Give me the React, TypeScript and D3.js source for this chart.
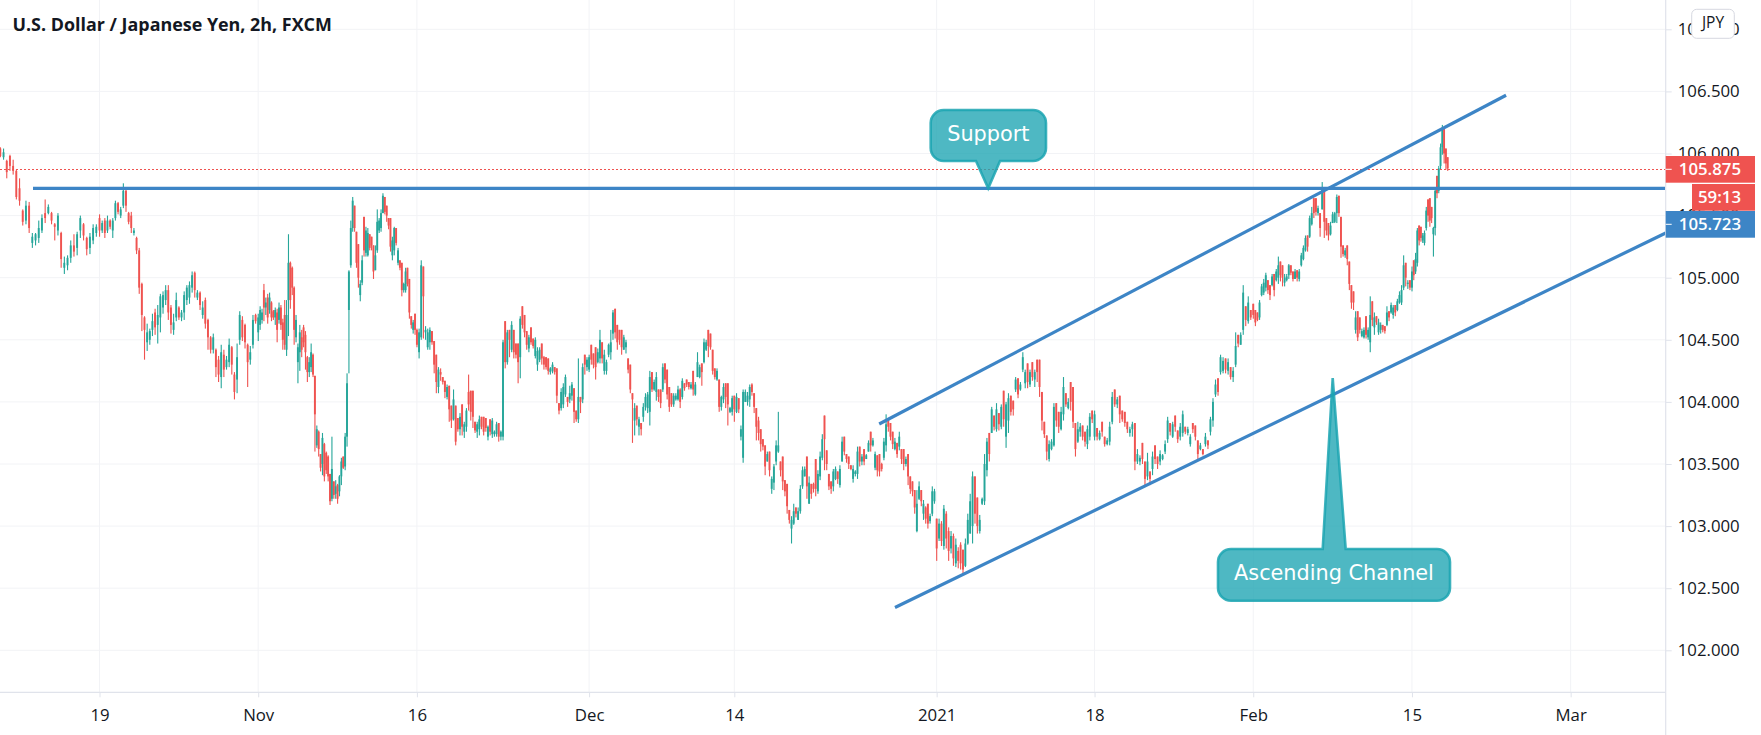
import React, { useEffect, useRef } from "react";
import * as d3 from "d3";

// bars are [open, high, low, close], in hundredths of a yen above 100
type Bar = number[];

const barsToOct19: Bar[] = [
  [604,605,597,598],[597,604,595,601],[594,595,580,585],[598,599,586,590],[590,595,583,586],[586,587,563,565],[572,580,558,562],[554,555,542,545],
  [546,562,543,558],[558,561,536,540],[528,536,524,533],[530,536,526,535],[532,546,528,540],[538,551,536,548],[552,563,544,548],[552,559,551,557],
  [552,553,543,546],[543,544,530,541],[538,552,534,550],[536,537,508,515],[508,517,503,512],[510,518,506,516],[516,530,512,526],[526,535,517,521],
  [524,537,518,535],[538,550,532,548],[543,544,530,534],[532,533,518,523],[524,536,519,533],[530,543,527,540],[536,543,533,541],
];
const barsToNov2: Bar[] = [
  [548,551,533,538],[538,546,536,544],[546,548,532,536],[538,550,536,546],[546,547,539,541],[538,548,532,546],[548,562,546,560],[560,561,551,553],
  [550,557,548,555],[558,576,556,570],[570,571,553,558],[552,553,543,545],[550,553,536,540],[536,540,534,538],[532,533,519,522],[522,524,487,492],
  [495,496,457,470],[468,469,434,458],[448,463,441,456],[450,459,446,457],[458,471,453,465],[472,475,454,460],[462,478,447,470],[468,487,456,485],
  [476,489,471,486],[482,494,478,490],[490,494,466,472],[476,478,455,462],[458,471,454,464],[468,488,465,482],[476,477,466,468],[468,474,465,472],
  [472,489,466,486],[482,494,478,492],[484,497,479,494],[492,505,488,502],[504,505,484,490],[484,490,482,488],[488,489,474,478],[470,481,467,476],
  [482,484,459,463],[466,467,442,452],[452,453,439,442],[442,455,439,452],[442,443,420,428],[434,437,416,422],[420,446,411,440],[438,442,420,426],
  [428,437,426,434],[432,451,428,446],[444,445,422,430],[422,424,402,408],[418,447,407,436],[450,473,446,470],[466,469,449,452],[462,463,443,448],
  [446,447,412,432],[434,445,430,440],[446,470,443,466],[470,471,463,465],
];
const barsToNov16: Bar[] = [
  [456,471,449,468],[462,477,458,474],[466,475,463,472],[490,495,465,476],[476,484,470,480],[484,487,463,468],[474,488,471,484],[480,481,465,468],
  [473,474,466,468],[468,476,462,474],[472,475,448,458],[466,480,463,476],[476,478,458,462],[464,467,442,450],[470,482,442,446],[442,482,437,470],
  [482,535,453,512],[512,513,475,482],[508,509,486,492],[492,493,446,458],[452,470,448,466],[432,447,415,444],[440,462,425,456],[452,458,436,442],
  [460,462,444,448],[454,457,426,440],[436,437,416,424],[424,436,420,432],[428,447,424,440],[438,439,420,422],
  [421,421,360,390],[365,381,363,378],[376,377,356,362],[358,358,344,347],[350,375,341,371],[366,367,336,340],[359,360,342,345],[356,357,336,340],
  [342,342,317,320],[322,372,320,346],[336,336,322,325],[326,337,322,332],[333,334,318,322],[328,341,324,340],[340,355,333,352],[356,356,346,347],
  [348,375,345,372],[372,423,364,415],[474,506,423,505],[510,546,508,540],[540,565,537,562],[558,558,537,540],[537,537,508,512],[527,527,492,500],
  [486,498,481,495],[496,518,494,514],[549,549,517,522],[520,541,517,538],[518,540,517,536],[535,535,522,524],[533,533,522,526],[526,526,499,505],
  [506,526,506,518],[522,555,520,545],[538,548,536,546],[540,555,537,552],[552,568,552,566],[565,565,551,553],[558,558,545,550],[548,548,539,542],
  [548,548,521,525],[518,533,514,530],[522,541,518,540],[540,540,526,528],[512,524,510,522],[514,514,506,508],[512,512,485,490],[490,496,488,495],
  [490,508,488,505],[508,508,493,495],[499,499,467,472],[469,469,459,462],[458,466,455,464],[471,471,454,458],
];
const barsToDec1: Bar[] = [
  [458,459,444,446],[440,459,435,456],[452,514,450,510],[509,509,451,485],[456,461,450,458],[444,459,442,456],[448,460,442,458],[457,457,446,448],
  [449,449,423,430],[438,438,407,416],[412,428,407,426],[424,427,417,422],[420,420,414,416],[417,417,403,408],[404,414,402,412],[413,413,384,394],
  [397,397,379,385],[386,410,385,402],[397,397,365,368],[387,387,376,378],[378,391,373,388],[398,398,373,380],[376,384,371,382],[380,395,376,393],
  [408,422,393,398],[409,409,385,392],[409,409,379,388],[384,384,375,377],[376,384,371,382],[378,389,373,386],[388,388,378,380],[388,388,373,376],
  [387,387,376,379],[372,381,369,380],[386,386,373,376],[374,387,371,385],[374,377,372,376],[374,384,372,382],[383,383,368,372],[372,377,369,376],
  [372,450,369,448],[465,465,427,432],[432,458,430,456],[458,458,436,450],[442,465,440,462],[458,458,435,440],[447,447,435,438],[447,447,415,432],
  [436,469,419,467],[477,477,459,462],[470,470,452,456],[457,457,442,446],[443,454,440,452],[460,460,446,448],[451,451,443,445],[437,452,435,450],
  [430,444,425,441],[434,444,432,442],[447,447,430,435],[436,437,426,430],[436,436,426,428],[435,435,422,425],[424,428,422,427],[425,432,423,430],
  [428,428,422,424],[427,427,399,405],[399,399,390,393],[395,411,393,408],[398,415,395,412],[406,422,404,420],[404,404,396,400],[402,413,399,407],
  [405,416,401,414],[411,411,383,392],[393,393,384,386],[386,435,383,404],[404,404,391,400],[402,431,399,428],[438,438,422,430],[428,436,425,434],
];
const barsToDec14: Bar[] = [
  [426,438,424,436],[446,446,430,434],[439,439,427,430],[444,444,418,428],[432,443,431,440],[435,458,431,450],[448,448,431,435],[425,442,422,438],
  [425,434,422,432],[438,447,436,446],[440,458,434,448],[455,474,450,472],[475,475,451,456],[462,462,442,448],[458,458,446,450],[458,458,438,444],
  [442,454,442,452],[444,450,439,448],[435,435,423,426],[430,430,407,410],[407,407,367,402],[385,399,373,395],[397,397,381,386],[380,388,373,386],
  [383,383,373,378],[388,399,384,396],[396,407,393,404],[395,408,391,406],[392,425,381,420],[424,424,408,410],[410,418,409,416],[408,424,401,420],
  [410,410,400,404],[410,410,395,399],[410,431,408,428],[431,431,415,418],[426,426,402,406],[412,412,392,396],[407,407,396,398],[398,407,396,405],
  [402,407,401,405],[402,413,401,410],[410,411,395,400],[404,419,402,417],[415,415,409,411],[418,418,412,414],[416,416,410,412],[411,416,410,414],
  [425,425,405,410],[406,416,405,414],[420,440,420,432],[420,430,419,428],[431,431,413,424],[432,451,431,448],[442,450,441,448],[458,458,436,445],
  [455,455,442,444],[442,442,422,425],[427,427,418,420],[418,427,417,425],[418,418,392,396],[396,405,393,404],[402,415,399,412],[415,415,395,404],
  [415,415,381,398],[392,396,391,395],[392,405,389,403],
];
const barsToNewYear: Bar[] = [
  [405,405,384,394],[392,407,391,404],[403,403,391,394],[372,381,369,378],[355,410,351,408],[400,410,400,408],[400,408,397,405],[402,414,396,412],
  [414,415,405,408],[407,407,391,396],[395,395,369,380],[385,388,369,375],[378,378,360,366],[370,370,361,364],[365,365,341,348],[352,360,352,358],
  [360,360,340,345],[330,340,326,338],[335,350,329,348],[352,369,349,365],[360,392,359,365],[352,352,340,345],[356,356,329,336],[337,337,324,328],
  [334,334,310,316],[313,313,302,305],[298,308,286,305],[302,318,301,312],[315,315,307,310],[305,315,305,312],[312,333,310,330],[332,348,330,345],
  [340,348,340,346],[356,356,322,332],[318,340,318,335],[334,334,322,326],[334,335,327,330],[354,354,324,330],[328,345,326,342],[340,360,337,356],
  [355,374,353,370],[389,389,345,370],[361,361,345,350],[342,342,329,332],[336,336,326,330],[332,346,328,344],[338,348,337,346],[344,344,334,338],
  [333,349,331,346],[352,372,352,368],[372,372,357,360],[358,358,351,354],[356,356,346,350],[349,349,345,346],[338,349,335,346],[342,345,340,344],
  [342,364,338,360],[364,364,348,352],[352,358,349,356],[362,362,349,352],[354,358,354,357],[360,369,360,367],[376,376,360,365],[365,371,364,369],
  [347,360,345,358],[357,357,340,345],[358,358,340,344],[350,351,344,346],[355,371,353,368],[365,390,360,382],[387,387,376,380],[383,383,369,372],
  [376,376,362,366],[362,371,361,368],[367,367,355,358],[364,376,361,372],[362,362,350,354],[362,362,345,350],[350,356,348,354],[358,358,333,340],
  [340,340,326,330],[336,336,324,328],[329,329,310,315],[296,329,295,318],[322,336,321,332],[329,329,316,320],[310,321,305,318],[315,316,302,306],
  [318,318,298,302],[304,310,302,308],[310,332,308,328],[320,330,318,328],
];
const barsToJan18: Bar[] = [
  [306,306,272,282],[290,306,288,302],[302,304,284,288],[284,317,281,314],[310,312,282,290],[296,299,272,280],[282,296,278,292],[292,294,268,274],
  [270,290,267,285],[280,283,266,272],[285,287,265,270],[281,281,261,265],[268,290,267,286],
  [286,310,285,305],[294,326,294,320],[300,344,286,340],[340,340,302,310],[323,323,294,300],[296,309,294,305],[318,323,317,322],[320,358,317,350],
  [345,371,340,368],[375,375,352,358],[375,396,375,394],[389,389,377,380],[378,399,376,394],[391,391,377,382],[380,398,378,396],[409,409,380,386],
  [372,400,363,398],[385,407,375,403],[405,405,389,392],[401,401,389,394],[410,420,408,418],[419,419,403,406],[410,416,409,414],[426,440,424,436],
  [415,426,411,424],[431,431,411,416],[414,426,412,424],[432,432,417,420],[418,426,412,424],[434,434,416,424],[434,434,404,412],[408,408,377,385],
  [384,384,371,374],[373,373,353,360],[354,369,352,366],[362,370,361,368],[365,399,364,396],[399,399,380,385],[392,392,375,380],[378,396,377,392],
  [390,420,385,412],[407,407,396,398],[395,403,394,400],[416,416,393,400],[412,412,379,384],[383,383,356,362],[368,384,367,378],[376,383,372,380],
  [381,381,369,372],[376,376,364,368],[366,381,362,378],[372,391,369,388],[393,393,383,386],
];
const barsToFeb1: Bar[] = [
  [372,393,369,390],[379,379,369,372],[370,377,369,375],[384,384,372,376],[372,372,364,366],[366,371,365,369],[368,384,365,380],[384,408,382,404],
  [410,410,396,398],[398,404,395,402],[405,405,383,390],[393,393,384,386],[392,392,380,383],[384,384,375,378],[375,380,372,378],[378,384,372,382],
  [383,383,345,352],[352,362,350,358],[352,357,349,355],[367,367,350,354],[352,352,333,338],[340,359,337,352],[344,344,333,338],[346,360,341,356],
  [365,365,350,354],[356,356,346,350],[352,361,349,358],[354,358,353,357],[360,369,358,366],[370,388,367,385],[383,383,373,376],[372,384,371,382],
  [389,389,376,380],[377,377,367,370],[372,383,369,380],[375,393,372,390],[380,380,374,376],[375,380,373,378],[366,374,364,372],[383,383,375,378],
  [381,381,369,372],[369,369,354,358],[362,367,361,365],[362,362,357,358],[366,375,364,372],[369,369,362,365],[376,388,373,386],[385,403,380,400],
  [406,418,404,414],[419,419,405,408],[424,438,422,436],[425,436,423,433],[435,435,423,426],[425,435,422,432],[428,428,418,420],[420,428,416,425],
  [430,456,428,445],[454,454,444,447],[446,456,446,454],[458,494,454,488],[477,477,461,466],[465,485,463,480],[474,474,466,468],
];
const barsToFeb15: Bar[] = [
  [479,479,467,470],[474,474,461,464],[472,472,465,466],[468,482,466,480],[486,495,485,493],[488,499,486,496],[492,504,489,502],[498,498,487,490],
  [494,494,482,486],[494,503,493,501],[503,503,485,490],[498,507,497,505],[500,517,495,510],[513,513,497,502],[510,510,493,500],[496,503,493,500],
  [498,503,497,501],[502,511,499,510],[510,510,502,504],[505,505,497,499],[499,507,499,505],[506,506,497,500],[499,507,497,505],[510,520,509,518],
  [515,526,514,524],[522,534,521,532],[534,534,521,525],[533,550,532,548],[543,557,542,552],[564,564,548,552],[564,564,550,553],[552,558,550,556],
  [552,552,533,540],[555,577,555,572],[572,572,532,545],[548,548,534,538],[544,544,530,534],[535,545,534,542],[544,553,544,551],[545,553,544,552],
  [552,567,544,565],[566,566,549,552],[549,549,516,525],[526,526,517,519],[518,524,516,522],[526,526,510,515],[513,513,490,495],[494,494,475,480],
  [489,489,474,480],[458,473,455,468],[473,473,449,452],[468,468,455,458],[453,459,452,457],[452,460,451,458],[469,469,451,454],[452,460,450,458],
  [448,485,440,470],[481,481,461,466],[460,472,454,468],[469,469,462,464],[456,467,454,464],[458,464,455,462],[462,462,456,458],[461,461,455,457],
  [462,477,461,472],[473,473,465,468],[472,480,471,478],[470,478,467,476],[478,478,469,472],[474,483,473,481],[480,489,479,486],[480,494,478,490],
  [492,518,490,510],[512,512,493,500],[495,498,491,496],[498,498,490,492],
];
const barsLast: Bar[] = [
  [492,509,489,505],[514,514,498,502],[505,520,503,515],[512,540,509,538],[542,542,526,530],[541,541,529,532],[530,536,528,534],[528,538,526,536],
  [540,557,538,554],[563,563,545,550],[564,564,541,546],[557,557,544,548],[535,541,517,540],[540,573,534,570],[582,582,564,568],[570,590,568,588],
  [590,608,587,605],[605,623,599,620],[620,620,592,600],[604,604,587,592],[597,597,586,588],
];

const barGroups = [barsToOct19, barsToNov2, barsToNov16, barsToDec1, barsToDec14, barsToNewYear, barsToJan18, barsToFeb1, barsToFeb15, barsLast];

const priceTicks = [102, 102.5, 103, 103.5, 104, 104.5, 105, 105.5, 106, 106.5, 107];
const timeLabels = ["19", "Nov", "16", "Dec", "14", "2021", "18", "Feb", "15", "Mar"];
// position of each time label, in weeks after Oct 19 with weekends closed up
const timeWeeks = [0, 2, 4, 6.17, 8, 10.55, 12.54, 14.54, 16.54, 18.54];
const firstBarWeek = -1.25;
const lastBarWeek = 16.99;

const lastPrice = 105.875;
const trendLines = [
  { from: [-0.838, 105.72], to: [19.73, 105.72] },
  { from: [9.826, 103.822], to: [17.726, 106.469] },
  { from: [10.025, 102.345], to: [19.738, 105.36] },
];

const W = 1761;
const H = 735;
const axisX = 1665.7;
const axisY = 692.3;
const UI_FONT = "'Open Sans', sans-serif";
const UP = "#26a69a";
const DOWN = "#ef5350";
const LINE = "#3d85c6";
const GRID = "#f2f3f6";
const AXIS = "#e0e3eb";
const INK = "#131722";

function callout(x0: number, y0: number, x1: number, y1: number, r: number, tipX: number, tipY: number, baseL: number, baseR: number, tipAbove: boolean) {
  const p = d3.path();
  p.moveTo(x0 + r, y0);
  if (tipAbove) {
    p.lineTo(baseL, y0);
    p.lineTo(tipX, tipY);
    p.lineTo(baseR, y0);
  }
  p.lineTo(x1 - r, y0);
  p.arcTo(x1, y0, x1, y0 + r, r);
  p.lineTo(x1, y1 - r);
  p.arcTo(x1, y1, x1 - r, y1, r);
  if (!tipAbove) {
    p.lineTo(baseR, y1);
    p.lineTo(tipX, tipY);
    p.lineTo(baseL, y1);
  }
  p.lineTo(x0 + r, y1);
  p.arcTo(x0, y1, x0, y1 - r, r);
  p.lineTo(x0, y0 + r);
  p.arcTo(x0, y0, x0 + r, y0, r);
  p.closePath();
  return p.toString();
}

export default function App() {
  const ref = useRef<SVGSVGElement>(null);

  useEffect(() => {
    const svg = d3.select(ref.current);
    svg.selectAll("*").remove();

    const y = d3.scaleLinear().domain([102, 107]).range([650.3, 29.3]);
    const week = d3.scaleLinear().domain([0, 1]).range([99.5, 178.85]);

    // every group of bars fills the gap between two time labels
    const bars = barGroups.flat();
    const ends = d3.cumsum(barGroups.map((g) => g.length));
    const barDomain = [0, ...Array.from(ends).slice(0, 9), bars.length - 1];
    const barRange = [firstBarWeek, ...timeWeeks.slice(0, 9), lastBarWeek].map((w) => week(w));
    const x = d3.scaleLinear().domain(barDomain).range(barRange);
    const price = (v: number) => 100 + v / 100;

    // grid
    svg.append("g").selectAll("line").data(priceTicks).join("line")
      .attr("x1", 0).attr("x2", axisX)
      .attr("y1", (d) => y(d)).attr("y2", (d) => y(d))
      .attr("stroke", GRID).attr("stroke-width", 1);
    svg.append("g").selectAll("line").data(timeWeeks).join("line")
      .attr("x1", (d) => week(d)).attr("x2", (d) => week(d))
      .attr("y1", 0).attr("y2", axisY)
      .attr("stroke", GRID).attr("stroke-width", 1);

    // candles
    const candles = svg.append("g").selectAll("g").data(bars).join("g")
      .attr("fill", (d) => (d[3] >= d[0] ? UP : DOWN));
    candles.append("rect")
      .attr("x", (d, i) => x(i) - 0.5).attr("width", 1.1)
      .attr("y", (d) => y(price(d[1])))
      .attr("height", (d) => Math.max(0.5, y(price(d[2])) - y(price(d[1]))));
    candles.append("rect")
      .attr("x", (d, i) => x(i) - 0.95).attr("width", 1.9)
      .attr("y", (d) => y(price(Math.max(d[0], d[3]))))
      .attr("height", (d) => Math.max(1, Math.abs(y(price(d[0])) - y(price(d[3])))));

    // last price line
    svg.append("line")
      .attr("x1", 0).attr("x2", axisX)
      .attr("y1", y(lastPrice)).attr("y2", y(lastPrice))
      .attr("stroke", DOWN).attr("stroke-width", 1).attr("stroke-dasharray", "1.5,2.5")
      .attr("shape-rendering", "crispEdges");

    // drawings
    svg.append("g").selectAll("line").data(trendLines).join("line")
      .attr("x1", (d) => week(d.from[0])).attr("y1", (d) => y(d.from[1]))
      .attr("x2", (d) => week(d.to[0])).attr("y2", (d) => y(d.to[1]))
      .attr("stroke", LINE).attr("stroke-width", 3.2);

    const balloon = svg.append("g");
    balloon.append("path")
      .attr("d", callout(930.7, 110, 1046, 161, 13, week(11.2), y(105.72), 976, 1000, false))
      .attr("fill", "#1ca4b2").attr("fill-opacity", 0.78)
      .attr("stroke", "#1ca4b2").attr("stroke-opacity", 0.85).attr("stroke-width", 2.6);
    balloon.append("path")
      .attr("d", callout(1218, 549, 1450, 600.7, 13, 1332.7, 378, 1322.7, 1345.7, true))
      .attr("fill", "#1ca4b2").attr("fill-opacity", 0.78)
      .attr("stroke", "#1ca4b2").attr("stroke-opacity", 0.85).attr("stroke-width", 2.6);
    balloon.selectAll("text")
      .data([
        { t: "Support", x: 988.3, y: 134 },
        { t: "Ascending Channel", x: 1334, y: 573 },
      ])
      .join("text")
      .text((d) => d.t)
      .attr("x", (d) => d.x).attr("y", (d) => d.y)
      .attr("dy", "0.35em").attr("text-anchor", "middle")
      .attr("font-family", "'DejaVu Sans', sans-serif").attr("font-size", 20.8)
      .attr("fill", "#fff");

    // axes
    svg.append("rect").attr("x", 0).attr("y", axisY + 0.5).attr("width", axisX).attr("height", H - axisY).attr("fill", "#fff");
    svg.append("rect").attr("x", axisX).attr("y", 0).attr("width", W - axisX).attr("height", H).attr("fill", "#fff");
    svg.append("line").attr("x1", 0).attr("x2", axisX).attr("y1", axisY).attr("y2", axisY).attr("stroke", AXIS).attr("stroke-width", 1.2);
    svg.append("line").attr("x1", axisX).attr("x2", axisX).attr("y1", 0).attr("y2", H).attr("stroke", AXIS).attr("stroke-width", 1.2);

    const yAxis = d3.axisRight(y)
      .tickValues(priceTicks)
      .tickSize(6).tickPadding(6)
      .tickFormat((d) => d3.format(".3f")(d as number));
    const yg = svg.append("g").attr("transform", `translate(${axisX},0)`).call(yAxis as any);
    yg.select(".domain").remove();
    yg.selectAll(".tick line").attr("stroke", AXIS);
    yg.selectAll(".tick text")
      .attr("font-family", UI_FONT).attr("font-size", 16.8).attr("fill", INK);

    const xAxis = d3.axisBottom(week)
      .tickValues(timeWeeks)
      .tickSize(5).tickPadding(12)
      .tickFormat((d, i) => timeLabels[i]);
    const xg = svg.append("g").attr("transform", `translate(0,${axisY})`).call(xAxis as any);
    xg.select(".domain").remove();
    xg.selectAll(".tick line").attr("stroke", AXIS);
    xg.selectAll(".tick text")
      .attr("font-family", UI_FONT).attr("font-size", 16.8).attr("fill", INK);

    // price labels on the axis
    const labels = svg.append("g").selectAll("g")
      .data([
        { t: "105.875", x: axisX, w: 89.3, y: 156, fill: DOWN, tick: true },
        { t: "59:13", x: 1692, w: 63, y: 184, fill: DOWN, tick: false },
        { t: "105.723", x: axisX, w: 89.3, y: 211, fill: LINE, tick: true },
      ])
      .join("g");
    labels.append("rect")
      .attr("x", (d) => d.x).attr("y", (d) => d.y)
      .attr("width", (d) => d.w).attr("height", 26.7)
      .attr("fill", (d) => d.fill);
    labels.filter((d) => d.tick).append("line")
      .attr("x1", axisX).attr("x2", axisX + 6)
      .attr("y1", (d) => d.y + 13.3).attr("y2", (d) => d.y + 13.3)
      .attr("stroke", "#fff").attr("stroke-width", 1);
    labels.append("text")
      .text((d) => d.t)
      .attr("x", 1741).attr("y", (d) => d.y + 13.3)
      .attr("dy", "0.36em").attr("text-anchor", "end")
      .attr("font-family", UI_FONT).attr("font-size", 16.8).attr("font-weight", 600)
      .attr("fill", "#fff");

    // currency button
    svg.append("rect")
      .attr("x", 1691.7).attr("y", 9.3).attr("width", 42.6).attr("height", 29).attr("rx", 5)
      .attr("fill", "#fff").attr("stroke", "#d6d8e0").attr("stroke-width", 1);
    svg.append("text").text("JPY")
      .attr("x", 1713).attr("y", 23).attr("dy", "0.35em").attr("text-anchor", "middle")
      .attr("font-family", UI_FONT).attr("font-size", 15.5).attr("fill", INK);

    // title
    svg.append("text").text("U.S. Dollar / Japanese Yen, 2h, FXCM")
      .attr("x", 12.5).attr("y", 31)
      .attr("font-family", UI_FONT).attr("font-size", 17.9).attr("font-weight", 700)
      .attr("fill", INK);
  }, []);

  return (
    <svg
      ref={ref}
      width={W}
      height={H}
      viewBox={`0 0 ${W} ${H}`}
      style={{ position: "absolute", left: 0, top: 0, background: "#fff" }}
    />
  );
}
